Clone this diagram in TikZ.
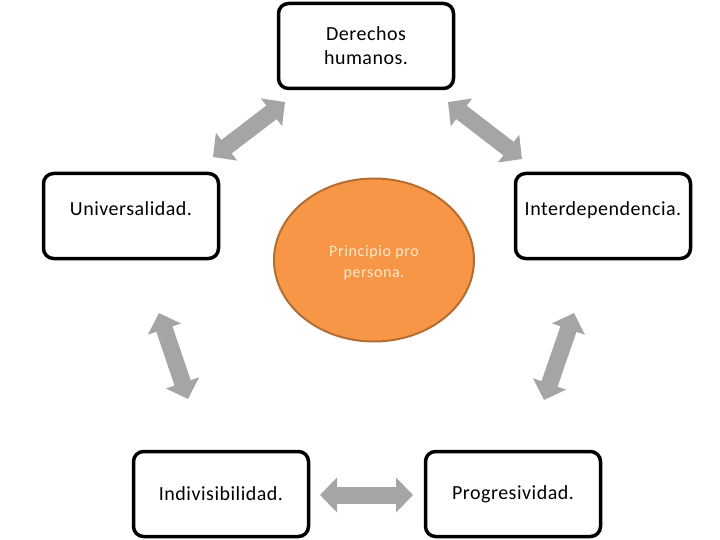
\documentclass[tikz,border=0pt]{standalone}
\usepackage{fontspec}
\setmainfont{Carlito}
\usetikzlibrary{shapes.geometric,arrows.meta}
\definecolor{flechagris}{HTML}{A5A5A5}
\definecolor{naranja}{HTML}{F79646}
\definecolor{naranjaborde}{HTML}{B66D31}
\definecolor{crema}{HTML}{FCE8CC}

\tikzset{
  caja/.style={draw=black, line width=3.5pt, rounded corners=10pt, minimum width=175pt,
    minimum height=85pt, inner sep=0pt, align=center,
    font=\fontsize{20}{24}\selectfont\addfontfeatures{LetterSpace=2.5}},
  flecha/.style={flechagris, line width=17pt,
    {Triangle[width=34pt,length=17pt]}-{Triangle[width=34pt,length=17pt]}},
}

\begin{document}
\begin{tikzpicture}[x=1pt, y=-1pt]
  \useasboundingbox (0,0) rectangle (720,540);
  \node[caja] (derechos) at(366,46){Derechos\\humanos.};
  \node[caja, text depth=14pt] (universal) at(131,216){Universalidad.};
  \node[caja, text depth=14pt] (interdep) at(603,216){Interdependencia.};
  \node[caja] (indivis) at(221,494){Indivisibilidad.};
  \node[caja] (progres) at(513,494){Progresividad.};
  \node[ellipse, draw=naranjaborde, fill=naranja, line width=2pt, minimum width=200pt,
    minimum height=163pt, inner sep=0pt, align=center, text=crema, text height=34pt, text depth=0pt,
    font=\fontsize{16}{21}\selectfont\addfontfeatures{LetterSpace=4}] (pro) at(374,260){Principio pro\\persona.};
  \coordinate (a1) at(213,157);
  \coordinate (b1) at(285,102);
  \coordinate (a2) at(448,102);
  \coordinate (b2) at(522,159);
  \coordinate (a3) at(159,313);
  \coordinate (b3) at(188,399);
  \coordinate (a4) at(574,313);
  \coordinate (b4) at(544,400);
  \coordinate (a5) at(320,495);
  \coordinate (b5) at(413,495);
  \draw[flecha] (a1) -- (b1);
  \draw[flecha] (a2) -- (b2);
  \draw[flecha] (a3) -- (b3);
  \draw[flecha] (a4) -- (b4);
  \draw[flecha] (a5) -- (b5);
\end{tikzpicture}
\end{document}
